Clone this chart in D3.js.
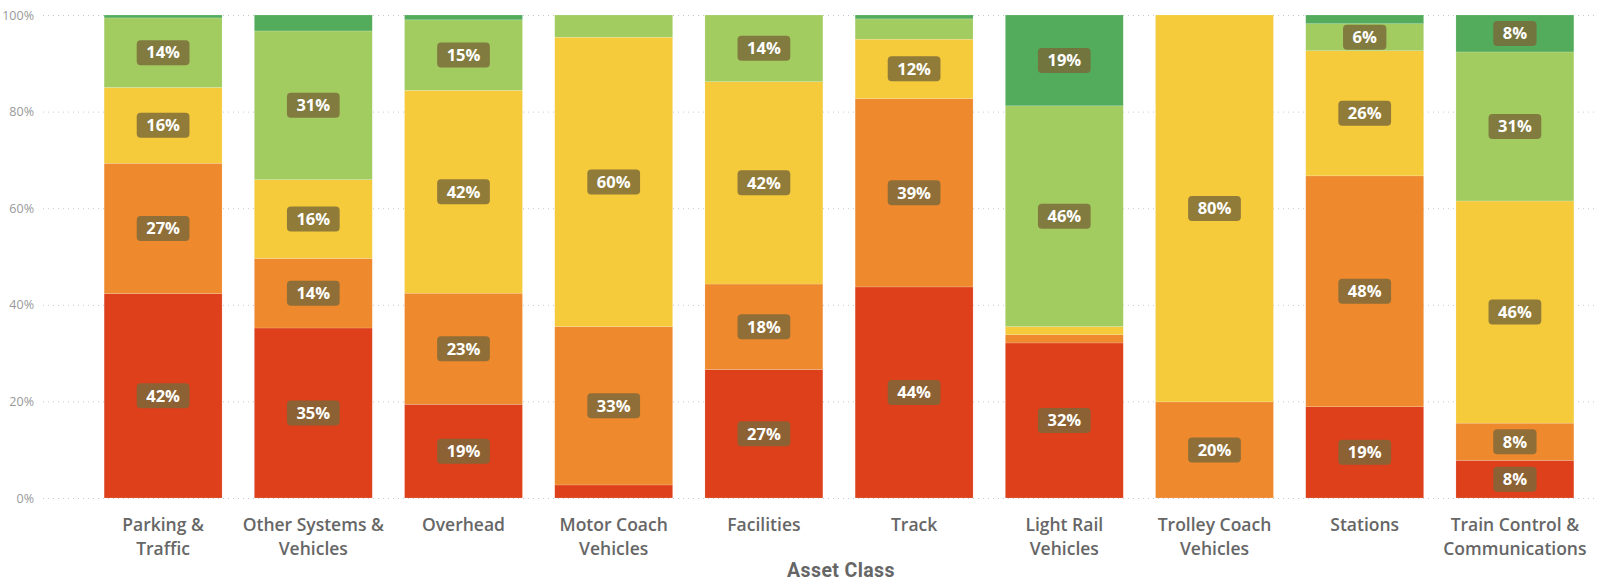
<!DOCTYPE html>
<html><head><meta charset="utf-8">
<script src="https://cdn.jsdelivr.net/npm/d3@7"></script>
<style>
html,body{margin:0;padding:0;background:#fff;}
svg{display:block;}
</style></head>
<body>
<svg id="chart" width="1601" height="582"></svg>
<script>
const categories = ["Parking & Traffic","Other Systems & Vehicles","Overhead","Motor Coach Vehicles","Facilities","Track","Light Rail Vehicles","Trolley Coach Vehicles","Stations","Train Control & Communications"];
const categoryLines = [["Parking &","Traffic"],["Other Systems &","Vehicles"],["Overhead"],["Motor Coach","Vehicles"],["Facilities"],["Track"],["Light Rail","Vehicles"],["Trolley Coach","Vehicles"],["Stations"],["Train Control &","Communications"]];
const seriesNames = ["Rating 1","Rating 2","Rating 3","Rating 4","Rating 5"];
const seriesColors = ["#DD401B","#EE892D","#F5CA3B","#A2CC60","#53AC5B"];
const rating1 = [42.3,35.2,19.4,2.7,26.6,43.7,32.1,0,18.9,7.8];
const rating2 = [27.0,14.4,23.0,32.8,17.7,39.0,1.7,19.9,47.8,7.7];
const rating3 = [15.7,16.3,42.0,59.9,41.9,12.3,1.7,80.1,25.9,46.0];
const rating4 = [14.4,30.8,14.6,4.6,13.8,4.2,45.7,0,5.6,30.85];
const rating5 = [0.6,3.3,1.0,0,0,0.8,18.8,0,1.8,7.65];
const yTicks = [0,20,40,60,80,100];
const xTitle = "Asset Class";

const seriesValues = [rating1,rating2,rating3,rating4,rating5];
const rows = categories.map((c,i)=>{
  const r = {category:c};
  seriesNames.forEach((s,j)=>{ r[s]=seriesValues[j][i]; });
  return r;
});

const svg = d3.select("#chart");
const x = d3.scaleBand().domain(categories).range([88,1590]).paddingInner(0.215).paddingOuter(0.1075);
const y = d3.scaleLinear().domain([0,100]).range([498,15]);

// gridlines
svg.append("g").selectAll("line").data(yTicks).join("line")
  .attr("x1",43).attr("x2",1598)
  .attr("y1",d=>y(d)+0.5).attr("y2",d=>y(d)+0.5)
  .attr("stroke","#c8c8c8").attr("stroke-width",1).attr("stroke-dasharray","1,4");

// y axis labels
const yAxis = d3.axisLeft(y).tickValues(yTicks).tickFormat(d=>d+"%").tickSize(0).tickPadding(0);
const yg = svg.append("g").attr("transform","translate(34,0)").call(yAxis);
yg.select(".domain").remove();
yg.selectAll("text").attr("fill","#999").style("font-family","'Open Sans','Noto Sans',sans-serif").style("font-size","12.5px");

const stack = d3.stack().keys(seriesNames);
const stacked = stack(rows);

const layers = svg.append("g").selectAll("g").data(stacked).join("g")
  .attr("fill",(d,i)=>seriesColors[i]);
layers.selectAll("rect").data(d=>d).join("rect")
  .attr("x",d=>x(d.data.category))
  .attr("width",x.bandwidth())
  .attr("y",d=>y(d[1]))
  .attr("height",d=>Math.max(0,y(d[0])-y(d[1])))
  .attr("stroke","rgba(255,255,255,0.25)").attr("stroke-width",0.6);

// labels
const labelData = [];
stacked.forEach((layer,j)=>{
  layer.forEach(d=>{
    const v = d[1]-d[0];
    if (v >= 5) labelData.push({cx:x(d.data.category)+x.bandwidth()/2, cy:y((d[0]+d[1])/2), text:Math.round(v)+"%"});
  });
});
const lg = svg.append("g").selectAll("g").data(labelData).join("g")
  .attr("transform",d=>`translate(${d.cx},${d.cy})`);
const lt = lg.append("text").text(d=>d.text)
  .attr("text-anchor","middle").attr("dy","0.35em")
  .attr("fill","#fff").style("font-family","'Open Sans','Noto Sans',sans-serif")
  .style("font-weight","700").style("font-size","16.5px");
lt.each(function(d){ d.w = this.getComputedTextLength(); });
lg.insert("rect","text")
  .attr("x",d=>-(d.w/2+9.5)).attr("width",d=>d.w+19)
  .attr("y",-12.5).attr("height",25).attr("rx",4)
  .attr("fill","#7a6939").attr("fill-opacity",0.82);

// x labels
const xl = svg.append("g").selectAll("text").data(categories).join("text")
  .attr("x",d=>x(d)+x.bandwidth()/2).attr("y",531)
  .attr("text-anchor","middle").attr("fill","#666")
  .style("font-family","'Open Sans','Noto Sans',sans-serif")
  .style("font-weight","600").style("font-size","17.5px");
xl.each(function(d,i){
  const t = d3.select(this);
  categoryLines[i].forEach((line,k)=>{
    t.append("tspan").attr("x",x(d)+x.bandwidth()/2).attr("y",531+k*23.5).text(line);
  });
});

svg.append("text").attr("x",841).attr("y",576.5).attr("text-anchor","middle")
  .attr("fill","#666")
  .style("font-family","Roboto,'Liberation Sans',sans-serif")
  .style("font-weight","700").style("font-size","19.5px").style("letter-spacing","0.4px").text(xTitle);
</script>
</body></html>
